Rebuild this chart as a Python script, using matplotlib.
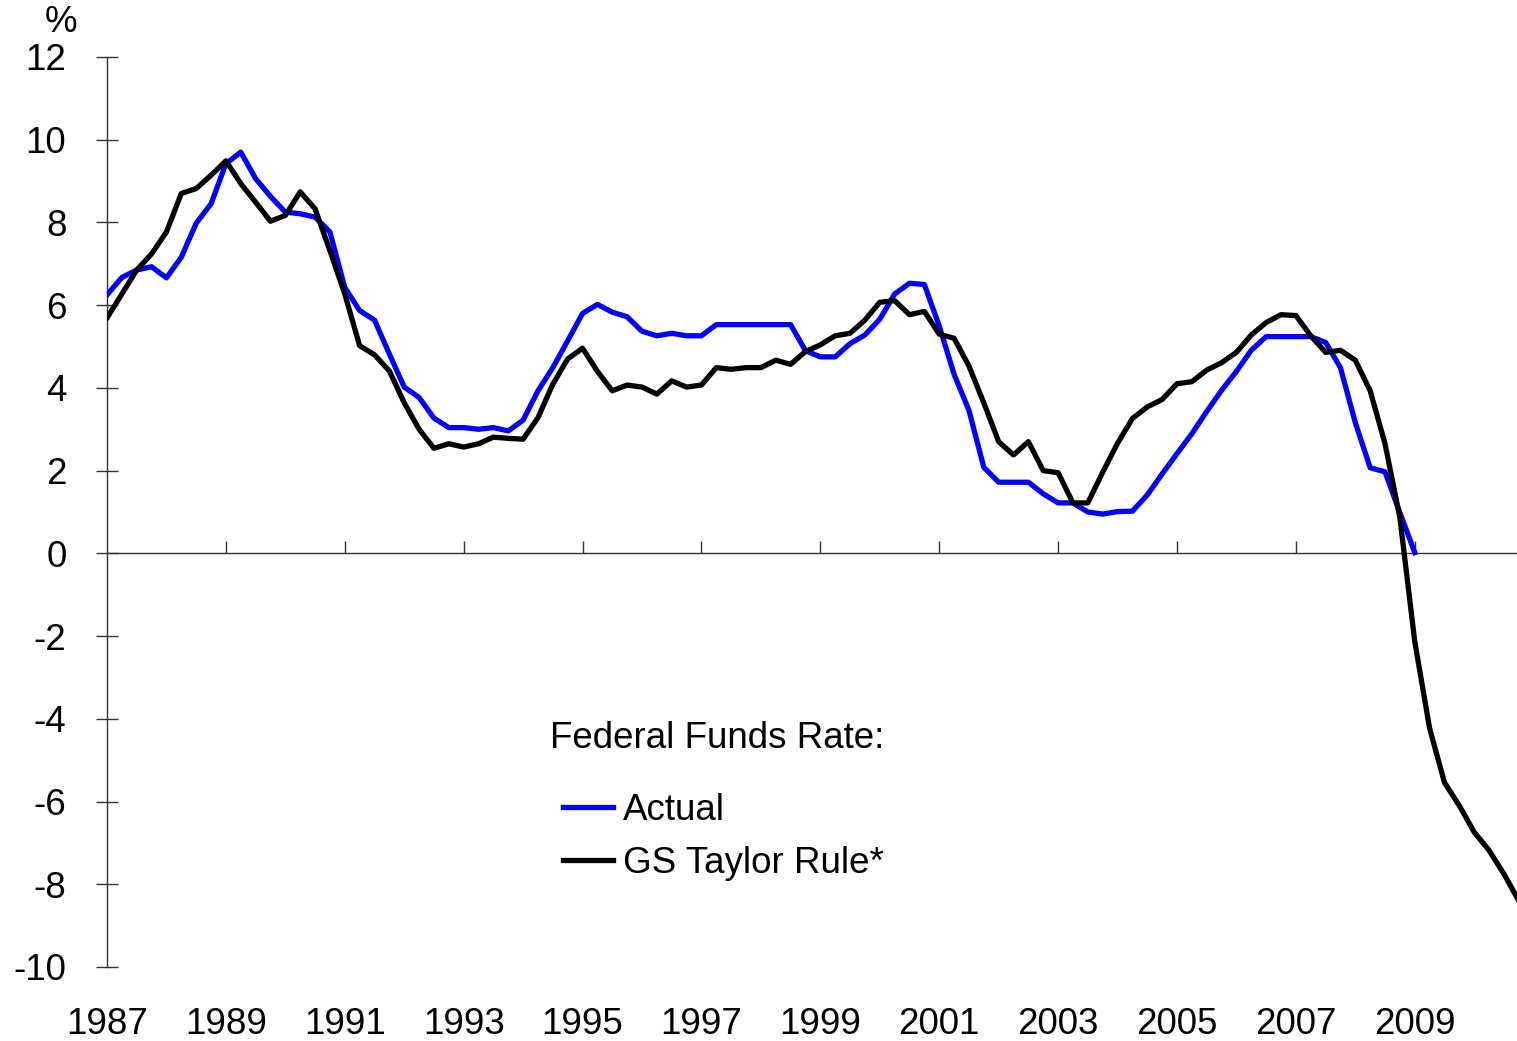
import numpy as np
import matplotlib
matplotlib.use("Agg")
import matplotlib.pyplot as plt

plt.rcParams['font.family'] = ['Liberation Sans', 'DejaVu Sans']

# quarterly series starting 1987Q1
start_year = 1987
actual = [6.25, 6.67, 6.85, 6.93, 6.66, 7.16, 7.98, 8.45,
          9.42, 9.70, 9.06, 8.63, 8.25, 8.21, 8.13, 7.77,
          6.43, 5.87, 5.64, 4.82, 4.02, 3.77, 3.27, 3.04,
          3.04, 3.00, 3.04, 2.96, 3.22, 3.93, 4.49, 5.14,
          5.80, 6.02, 5.83, 5.72, 5.37, 5.26, 5.32, 5.26,
          5.26, 5.53, 5.53, 5.53, 5.53, 5.53, 5.53, 4.90,
          4.75, 4.75, 5.07, 5.28, 5.66, 6.27, 6.53, 6.50,
          5.50, 4.33, 3.46, 2.08, 1.72, 1.72, 1.72, 1.44,
          1.22, 1.22, 1.00, 0.95, 1.01, 1.02, 1.41, 1.92,
          2.41, 2.89, 3.43, 3.94, 4.40, 4.91, 5.24, 5.24,
          5.24, 5.24, 5.10, 4.49, 3.16, 2.07, 1.97, 0.98,
          0.02]
taylor = [5.69, 6.27, 6.85, 7.24, 7.77, 8.70, 8.82, 9.14,
          9.49, 8.94, 8.49, 8.03, 8.17, 8.74, 8.33, 7.32,
          6.27, 5.02, 4.80, 4.41, 3.64, 3.00, 2.54, 2.65,
          2.57, 2.65, 2.81, 2.78, 2.76, 3.28, 4.09, 4.70,
          4.96, 4.40, 3.93, 4.07, 4.02, 3.85, 4.17, 4.02,
          4.07, 4.49, 4.45, 4.49, 4.49, 4.67, 4.57, 4.88,
          5.04, 5.26, 5.32, 5.64, 6.07, 6.11, 5.77, 5.85,
          5.30, 5.20, 4.53, 3.64, 2.70, 2.38, 2.70, 2.00,
          1.95, 1.22, 1.22, 1.96, 2.66, 3.26, 3.54, 3.72,
          4.10, 4.15, 4.43, 4.61, 4.86, 5.28, 5.58, 5.77,
          5.75, 5.26, 4.86, 4.91, 4.67, 3.93, 2.65, 0.86,
          -2.13, -4.23, -5.54, -6.10, -6.74, -7.18, -7.75, -8.40]
year_ticks = list(range(1987, 2010, 2))
y_ticks = list(range(-10, 13, 2))

x_act = start_year + np.arange(len(actual)) * 0.25
x_tay = start_year + np.arange(len(taylor)) * 0.25

FS = 26.5

fig = plt.figure(figsize=(15.17, 10.41), dpi=100)
ax = fig.add_axes([107 / 1517, 1 - 967 / 1041, 1 - 107 / 1517, (967 - 57) / 1041])

ax.plot(x_act, actual, color='#0000FF', lw=3.8, label='Actual', zorder=3)
ax.plot(x_tay, taylor, color='black', lw=3.8, label='GS Taylor Rule*', zorder=4)

ax.set_xlim(1987, 2010.72)
ax.set_ylim(-10, 12)

for s in ['top', 'right']:
    ax.spines[s].set_visible(False)
ax.spines['left'].set_linewidth(1.0)
ax.spines['left'].set_color('#333333')
ax.spines['bottom'].set_position(('data', 0))
ax.spines['bottom'].set_linewidth(1.0)
ax.spines['bottom'].set_color('#333333')

ax.set_yticks(y_ticks)
ax.set_yticklabels([str(v) for v in y_ticks])
ax.tick_params(axis='y', direction='inout', length=16.5, width=1.0,
               color='#333333', pad=21, labelsize=FS)

ax.set_xticks(year_ticks[1:])
ax.tick_params(axis='x', direction='in', length=8.5, width=1.0,
               color='#333333', labelbottom=False)

sec = ax.secondary_xaxis(0.0)
sec.set_xticks(year_ticks)
sec.set_xticklabels([str(y) for y in year_ticks])
sec.tick_params(length=0, pad=29, labelsize=FS)
sec.spines['bottom'].set_visible(False)

fig.text(61 / 1517, 1 - 23 / 1041, '%', fontsize=FS, ha='center', va='center')

ax.text((550 - 107) / 1410, (967 - 738) / 910, 'Federal Funds Rate:',
        transform=ax.transAxes, fontsize=FS, ha='left', va='center')
ax.legend(loc='upper left', bbox_to_anchor=((563 - 107) / 1410, (967 - 793) / 910),
          frameon=False, fontsize=FS, handlelength=1.35, handletextpad=0.27,
          borderpad=0, borderaxespad=0, labelspacing=0.49)

fig.savefig('out.png', dpi=100)
